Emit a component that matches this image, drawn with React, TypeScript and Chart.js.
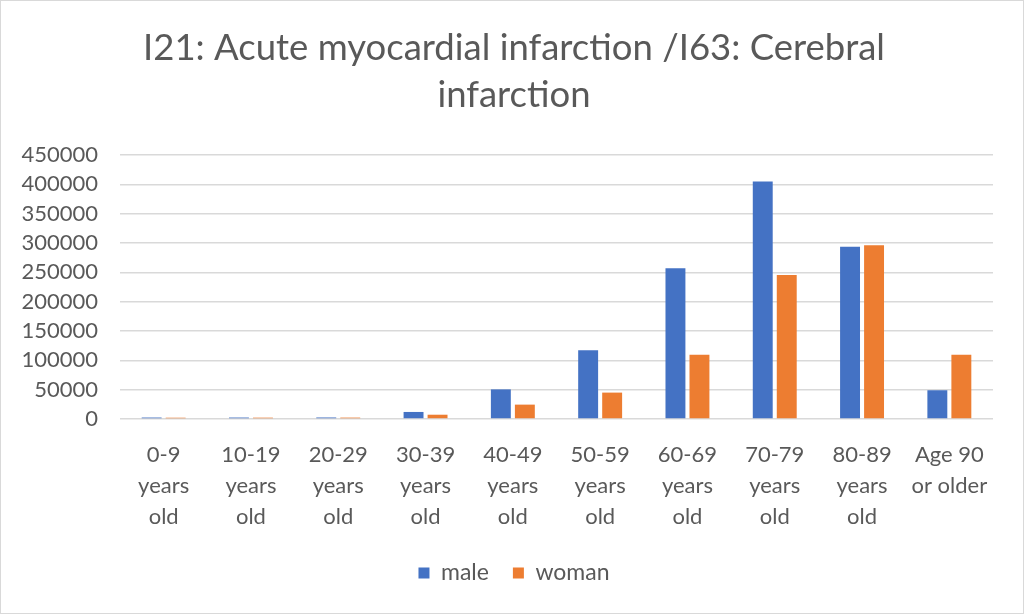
import React, { useEffect, useRef } from "react";
import { Chart, registerables } from "chart.js";

Chart.register(...registerables);

const categories: string[][] = [
  ["0-9", "years", "old"],
  ["10-19", "years", "old"],
  ["20-29", "years", "old"],
  ["30-39", "years", "old"],
  ["40-49", "years", "old"],
  ["50-59", "years", "old"],
  ["60-69", "years", "old"],
  ["70-79", "years", "old"],
  ["80-89", "years", "old"],
  ["Age 90", "or older"],
];

const maleValues = [2500, 2500, 2600, 12000, 50500, 117000, 257000, 405000, 293500, 49000];
const womanValues = [2200, 2300, 2400, 7300, 24500, 45000, 109500, 245500, 296000, 109500];

// \u200C (zero-width non-joiner) keeps the font from forming a "ti" ligature
const titleLines = ["I21: Acute myocardial infarc\u200Ction /I63: Cerebral", "infarc\u200Ction"];
const seriesNames = ["male", "woman"];

const FONT = "Lato, 'Open Sans', sans-serif";
const TEXT = "#595959";

export default function App() {
  const ref = useRef<HTMLCanvasElement | null>(null);

  useEffect(() => {
    if (!ref.current) return;
    const chart = new Chart(ref.current, {
      type: "bar",
      data: {
        labels: categories,
        datasets: [
          {
            label: seriesNames[0],
            data: maleValues,
            backgroundColor: "#4472C4",
            categoryPercentage: 0.55,
            barPercentage: 0.83,
          },
          {
            label: seriesNames[1],
            data: womanValues,
            backgroundColor: "#ED7D31",
            categoryPercentage: 0.55,
            barPercentage: 0.83,
          },
        ],
      },
      options: {
        animation: false,
        responsive: false,
        maintainAspectRatio: false,
        layout: { padding: { left: 16, right: 12, top: 0, bottom: 18.5 } },
        plugins: {
          tooltip: { enabled: false },
          title: {
            display: true,
            text: titleLines,
            color: TEXT,
            font: { family: FONT, size: 36.5, weight: "normal", lineHeight: 47 / 36.5 },
            padding: { top: 23.5, bottom: 36.5 },
          },
          legend: {
            display: true,
            position: "bottom",
            labels: {
              color: TEXT,
              font: { family: FONT, size: 23 },
              boxWidth: 11,
              boxHeight: 11,
              padding: 24,
            },
          },
        },
        scales: {
          x: {
            afterFit: (scale: any) => {
              scale.height = 118.5;
            },
            grid: { display: false, drawTicks: false },
            border: { display: false },
            ticks: {
              color: TEXT,
              font: { family: FONT, size: 22, lineHeight: 31 / 22 },
              padding: 20.5,
              maxRotation: 0,
              autoSkip: false,
            },
          },
          y: {
            min: 0,
            max: 450000,
            afterFit: (scale: any) => {
              scale.width = 103;
            },
            grid: { color: "#D9D9D9", lineWidth: 1.5, drawTicks: false },
            border: { display: false },
            ticks: {
              stepSize: 50000,
              autoSkip: false,
              color: TEXT,
              font: { family: FONT, size: 22 },
              padding: 22,
              callback: (v: any) => String(v),
            },
          },
          yRightSpace: {
            position: "right",
            display: true,
            afterFit: (scale: any) => {
              scale.width = 18;
            },
            grid: { display: false, drawTicks: false },
            border: { display: false },
            ticks: { display: false },
          },
        },
      },
    });
    return () => chart.destroy();
  }, []);

  return (
    <div
      style={{
        position: "fixed",
        left: 0,
        top: 0,
        width: 1024,
        height: 614,
        background: "#fff",
        boxSizing: "border-box",
        border: "1px solid #d9d9d9",
      }}
    >
      <canvas ref={ref} width={1022} height={612} style={{ display: "block" }} />
    </div>
  );
}
